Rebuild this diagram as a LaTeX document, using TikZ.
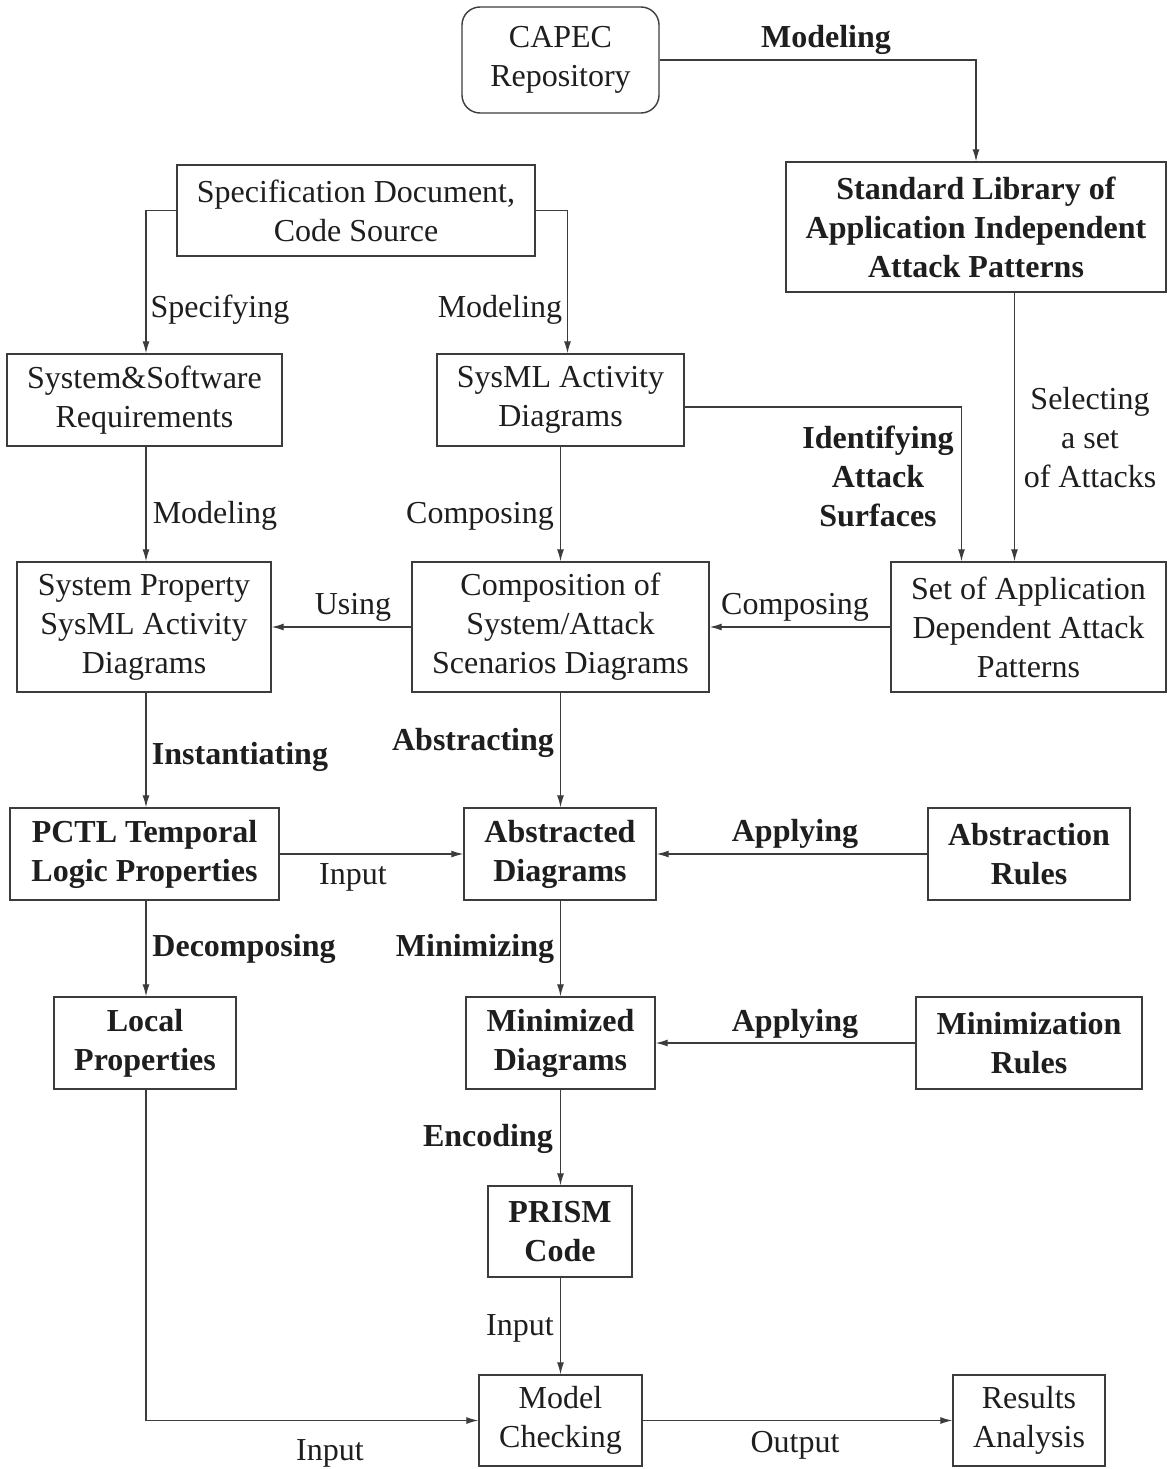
\documentclass[tikz,border=0pt]{standalone}
\usepackage{fontspec}
\setmainfont{Liberation Serif}
\usetikzlibrary{arrows.meta}
\definecolor{linec}{RGB}{60,60,60}
\definecolor{textc}{RGB}{30,30,30}
\tikzset{
  box/.style={draw=linec, line width=1.4pt, inner sep=0pt, align=center, text=textc,
              font=\fontsize{32}{39}\selectfont},
  bbox/.style={box, font=\fontsize{32}{39}\selectfont\bfseries},
  lbl/.style={inner sep=0pt, align=center, text=textc, yshift=-4pt, font=\fontsize{32}{39}\selectfont},
  blbl/.style={lbl, font=\fontsize{32}{39}\selectfont\bfseries},
  arr/.style={draw=linec, line width=1.2pt, -{Latex[length=12pt,width=7pt]}}
}
\begin{document}
\begin{tikzpicture}[x=1pt,y=-1pt]
\useasboundingbox[fill=white] (0,0) rectangle (1168,1469);
% boxes
\node[box, rounded corners=18pt, minimum width=197pt, minimum height=106pt] (capec) at (560.5,60) {CAPEC\\Repository};
\node[bbox, minimum width=380pt, minimum height=130pt] (stdlib) at (976,227) {Standard Library of\\Application Independent\\Attack Patterns};
\node[box, minimum width=358pt, minimum height=91pt] (spec) at (356,210.5) {Specification Document,\\Code Source};
\node[box, minimum width=275pt, minimum height=92pt] (sysreq) at (144.5,400) {System\&Software\\Requirements};
\node[box, minimum width=247pt, minimum height=92pt] (sysml) at (560.5,400) {SysML Activity\\Diagrams};
\node[box, minimum width=254pt, minimum height=130pt] (sysprop) at (144,627) {System Property\\SysML Activity\\Diagrams};
\node[box, minimum width=297pt, minimum height=130pt] (comp) at (560.5,627) {Composition of\\System/Attack\\Scenarios Diagrams};
\node[box, minimum width=275pt, minimum height=130pt] (setapp) at (1028.5,627) {Set of Application\\Dependent Attack\\Patterns};
\node[bbox, minimum width=269pt, minimum height=92pt] (pctl) at (144.5,854) {PCTL Temporal\\Logic Properties};
\node[bbox, minimum width=192pt, minimum height=92pt] (abs) at (560,854) {Abstracted\\Diagrams};
\node[bbox, minimum width=202pt, minimum height=92pt] (absrules) at (1029,854) {Abstraction\\Rules};
\node[bbox, minimum width=182pt, minimum height=92pt] (local) at (145,1043) {Local\\Properties};
\node[bbox, minimum width=189pt, minimum height=92pt] (mini) at (560.5,1043) {Minimized\\Diagrams};
\node[bbox, minimum width=226pt, minimum height=92pt] (minirules) at (1029,1043) {Minimization\\Rules};
\node[bbox, minimum width=144pt, minimum height=91pt] (prism) at (560,1231.5) {PRISM\\Code};
\node[box, minimum width=163pt, minimum height=91pt] (mc) at (560.5,1420.5) {Model\\Checking};
\node[box, minimum width=152pt, minimum height=91pt] (results) at (1029,1420.5) {Results\\Analysis};
% connectors
\draw[arr] (capec.east) -| (stdlib.north);
\draw[arr] (spec.west) -| ([xshift=1.5pt]sysreq.north);
\draw[arr] (spec.east) -| ([xshift=7pt]sysml.north);
\draw[arr] ([yshift=-7pt]sysml.east) -| ([xshift=-67pt]setapp.north);
\draw[arr] ([xshift=38.5pt]stdlib.south) -- ([xshift=-14pt]setapp.north);
\draw[arr] ([xshift=1.5pt]sysreq.south) -- ([xshift=2pt]sysprop.north);
\draw[arr] (sysml.south) -- (comp.north);
\draw[arr] (setapp.west) -- (comp.east);
\draw[arr] (comp.west) -- (sysprop.east);
\draw[arr] ([xshift=2pt]sysprop.south) -- ([xshift=1.5pt]pctl.north);
\draw[arr] (comp.south) -- ([xshift=0.5pt]abs.north);
\draw[arr] (pctl.east) -- (abs.west);
\draw[arr] (absrules.west) -- (abs.east);
\draw[arr] ([xshift=1.5pt]pctl.south) -- ([xshift=1pt]local.north);
\draw[arr] ([xshift=0.5pt]abs.south) -- (mini.north);
\draw[arr] (minirules.west) -- (mini.east);
\draw[arr] (mini.south) -- ([xshift=0.5pt]prism.north);
\draw[arr] ([xshift=0.5pt]prism.south) -- (mc.north);
\draw[arr] ([xshift=1pt]local.south) |- (mc.west);
\draw[arr] (mc.east) -- (results.west);
% labels
\node[blbl] (l1) at (826,36) {Modeling};
\node[lbl] (l2) at (220,306) {Specifying};
\node[lbl] (l3) at (500,306) {Modeling};
\node[blbl] (l4) at (878,472) {Identifying\\Attack\\Surfaces};
\node[lbl] (l5) at (1090,434) {Selecting\\a set\\of Attacks};
\node[lbl] (l6) at (215,512) {Modeling};
\node[lbl] (l7) at (480,512) {Composing};
\node[lbl] (l8) at (795,603) {Composing};
\node[lbl] (l9) at (353,603) {Using};
\node[blbl] (l10) at (240,753) {Instantiating};
\node[blbl] (l11) at (473,739) {Abstracting};
\node[lbl] (l12) at (353,873) {Input};
\node[blbl] (l13) at (795,830) {Applying};
\node[blbl] (l14) at (244,945) {Decomposing};
\node[blbl] (l15) at (475,945) {Minimizing};
\node[blbl] (l16) at (795,1020) {Applying};
\node[blbl] (l17) at (488,1135) {Encoding};
\node[lbl] (l18) at (520,1324) {Input};
\node[lbl] (l19) at (330,1449) {Input};
\node[lbl] (l20) at (795,1441) {Output};
\end{tikzpicture}
\end{document}
